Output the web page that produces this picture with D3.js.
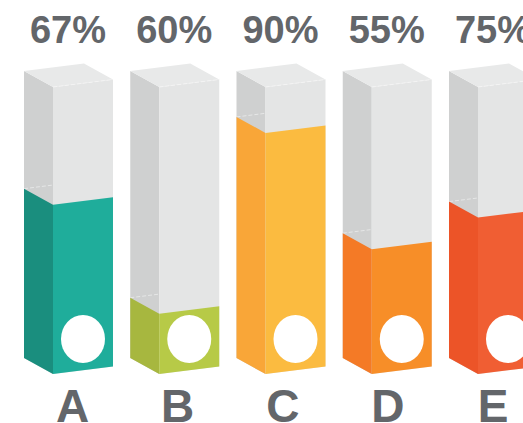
<!DOCTYPE html>
<html>
<head>
<meta charset="utf-8">
<script src="https://cdn.jsdelivr.net/npm/d3@7"></script>
<style>
html,body{margin:0;padding:0;background:#fff;overflow:hidden;}
svg{display:block;}
</style>
</head>
<body>
<svg id="chart" width="523" height="423"></svg>
<script>
// ---- data ----
const categories = ["A", "B", "C", "D", "E"];
const percentLabels = ["67%", "60%", "90%", "55%", "75%"];
const fillLevels = [0.59, 0.21, 0.84, 0.435, 0.545];   // liquid level
const frontColors = ["#1fad9b", "#b7ca47", "#fbbb40", "#f78e28", "#f05e33"];
const sideColors  = ["#1a8e7e", "#a7b73f", "#f9a638", "#f47a26", "#ec5428"];

const svg = d3.select("#chart");

const x = d3.scaleBand().domain(categories).range([24, 538]).paddingInner(0.1624).paddingOuter(0);
const xLetter = d3.scalePoint().domain(categories).range([72.5, 493]);
const y = d3.scaleLinear().domain([0, 1]).range([374, 87]);

const sideW = 29, leftDy = 16, rightDy = 7.5;
const bw = x.bandwidth();
const frontW = bw - sideW;

const data = categories.map((c, i) => ({
  cat: c, label: percentLabels[i], level: fillLevels[i], front: frontColors[i], side: sideColors[i]
}));

const pts = a => a.map(p => p.join(",")).join(" ");

function leftFace(d, y0, y1) {
  const x0 = x(d.cat), xf = x0 + sideW;
  return pts([[x0, y1 - leftDy], [xf, y1], [xf, y0], [x0, y0 - leftDy]]);
}
function frontFace(d, y0, y1) {
  const xf = x(d.cat) + sideW, xr = xf + frontW;
  return pts([[xf, y1], [xr, y1 - rightDy], [xr, y0 - rightDy], [xf, y0]]);
}
function topFace(d, yt) {
  const x0 = x(d.cat), xf = x0 + sideW, xr = xf + frontW;
  return pts([[x0, yt - leftDy], [xf, yt], [xr, yt - rightDy], [x0 + frontW, yt - leftDy - rightDy]]);
}

const g = svg.selectAll("g.bar").data(data).join("g").attr("class", "bar");

// glass (gray)
g.append("polygon").attr("points", d => leftFace(d, y(0), y(1))).attr("fill", "#cfd0d0");
g.append("polygon").attr("points", d => frontFace(d, y(0), y(1))).attr("fill", "#e4e5e5");
g.append("polygon").attr("points", d => topFace(d, y(1))).attr("fill", "#e8e9e9");
// faint edge between top and front
g.append("line")
  .attr("x1", d => x(d.cat) + sideW).attr("y1", y(1))
  .attr("x2", d => x(d.cat) + bw).attr("y2", y(1) - rightDy)
  .attr("stroke", "#f4f4f4").attr("stroke-width", 1).attr("stroke-dasharray", "4,2");
// faint hidden back edge of liquid
g.append("line")
  .attr("x1", d => x(d.cat)).attr("y1", d => y(d.level) - leftDy)
  .attr("x2", d => x(d.cat) + sideW).attr("y2", d => y(d.level) - leftDy - rightDy * sideW / frontW)
  .attr("stroke", "#e6e7e7").attr("stroke-width", 1).attr("stroke-dasharray", "4,2");

// liquid
g.append("polygon").attr("points", d => leftFace(d, y(0), y(d.level))).attr("fill", d => d.side);
g.append("polygon").attr("points", d => frontFace(d, y(0), y(d.level))).attr("fill", d => d.front);

// white circle
g.append("ellipse")
  .attr("cx", d => x(d.cat) + sideW + frontW / 2)
  .attr("cy", 339)
  .attr("rx", 22).attr("ry", 24)
  .attr("fill", "#ffffff");

// percent labels
g.append("text")
  .attr("x", d => x(d.cat) + 44)
  .attr("y", 43)
  .attr("text-anchor", "middle")
  .attr("font-family", "'Liberation Sans', Arial, sans-serif")
  .attr("font-weight", "bold")
  .attr("font-size", 38)
  .attr("fill", "#63666a")
  .text(d => d.label);

// category letters
g.append("text")
  .attr("x", d => xLetter(d.cat))
  .attr("y", 422)
  .attr("text-anchor", "middle")
  .attr("font-family", "'Liberation Sans', Arial, sans-serif")
  .attr("font-weight", "bold")
  .attr("font-size", 46)
  .attr("fill", "#63666a")
  .text(d => d.cat);
</script>
</body>
</html>
